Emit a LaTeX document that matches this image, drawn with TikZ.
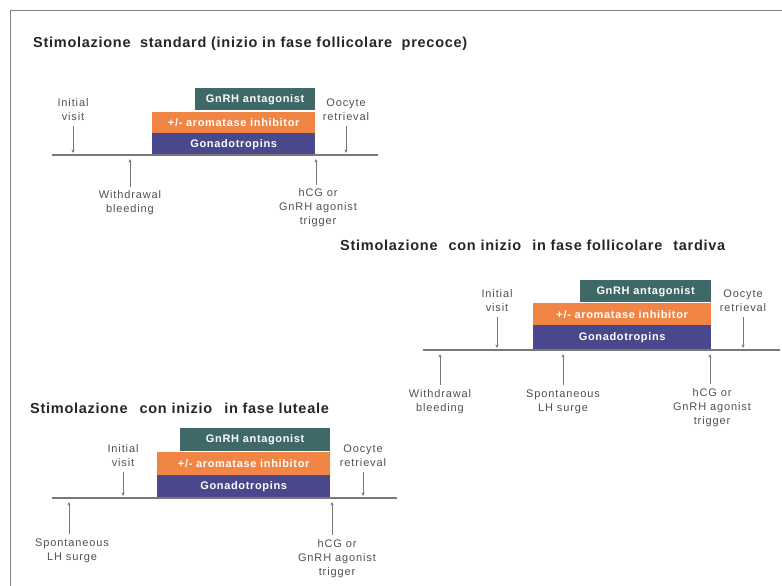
\documentclass[tikz,border=0pt]{standalone}
\usepackage{fontspec}
\setmainfont{Liberation Sans}
\usetikzlibrary{arrows.meta}
\definecolor{teal1}{RGB}{62,105,104}
\definecolor{orange1}{RGB}{240,133,70}
\definecolor{purple1}{RGB}{74,72,140}
\definecolor{txtgray}{RGB}{80,80,80}
\definecolor{linegray}{RGB}{120,120,120}
\begin{document}
\begin{tikzpicture}[x=1pt,y=-1pt,
  ttl/.style={anchor=west,inner sep=0pt,font=\bfseries\fontsize{14.5}{16}\selectfont\addfontfeatures{LetterSpace=5},text=black!85},
  lbl/.style={align=center,inner sep=0pt,font=\fontsize{11}{14}\selectfont\addfontfeatures{LetterSpace=8},text=txtgray},
  bar/.style={draw=none,inner sep=0pt,text=white,font=\bfseries\fontsize{11}{12}\selectfont\addfontfeatures{LetterSpace=6}},
  tline/.style={draw=linegray,line width=1.2pt},
  arr/.style={draw=linegray,line width=0.7pt,-{Stealth[length=3.5pt,width=3pt]}}]
\useasboundingbox (0,0) rectangle (782,586);
% frame
\draw[line width=1.5pt,draw=black!50] (782,10.5) -- (10.5,10.5) -- (10.5,586);

% ===== Panel 1 =====
\node[ttl] (t1) at (33,44) {Stimolazione\ \ standard (inizio in fase follicolare\ \ precoce)};
\node[bar,fill=teal1,minimum width=120pt,minimum height=22pt,anchor=north west] (a1) at (195,88) {GnRH antagonist};
\node[bar,fill=orange1,minimum width=163pt,minimum height=21pt,anchor=north west] (o1) at (152,112) {+/- aromatase inhibitor};
\node[bar,fill=purple1,minimum width=163pt,minimum height=22pt,anchor=north west] (g1) at (152,133) {Gonadotropins};
\coordinate (l1s) at (52,155); \coordinate (l1e) at (378,155);
\draw[tline] (l1s) -- (l1e);
\node[lbl] (iv1) at (73,110) {Initial\\visit};
\node[lbl] (or1) at (346,110) {Oocyte\\retrieval};
\node[lbl] (wb1) at (130,203) {Withdrawal\\bleeding};
\node[lbl] (hc1) at (318,208) {hCG or\\GnRH agonist\\trigger};
\coordinate (iv1t) at (73,153); \coordinate (or1t) at (346,153);
\coordinate (wb1t) at (130,159); \coordinate (hc1t) at (316,159);
\draw[arr] ([yshift=-5pt]iv1.south) -- (iv1t);
\draw[arr] ([yshift=-5pt]or1.south) -- (or1t);
\draw[arr] ([yshift=4pt]wb1.north) -- (wb1t);
\draw[arr] ([xshift=-2pt,yshift=4pt]hc1.north) -- (hc1t);

% ===== Panel 2 =====
\node[ttl] (t2) at (340,245) {Stimolazione\hspace{11pt}con inizio\hspace{11pt}in fase follicolare\hspace{11pt}tardiva};
\node[bar,fill=teal1,minimum width=131pt,minimum height=22pt,anchor=north west] (a2) at (580,280) {GnRH antagonist};
\node[bar,fill=orange1,minimum width=178pt,minimum height=22pt,anchor=north west] (o2) at (533,303) {+/- aromatase inhibitor};
\node[bar,fill=purple1,minimum width=178pt,minimum height=24pt,anchor=north west] (g2) at (533,325) {Gonadotropins};
\coordinate (l2s) at (423,350); \coordinate (l2e) at (780,350);
\draw[tline] (l2s) -- (l2e);
\node[lbl] (iv2) at (497,301) {Initial\\visit};
\node[lbl] (or2) at (743,301) {Oocyte\\retrieval};
\node[lbl] (wb2) at (440,402) {Withdrawal\\bleeding};
\node[lbl] (ls2) at (563,402) {Spontaneous\\LH surge};
\node[lbl] (hc2) at (712,408) {hCG or\\GnRH agonist\\trigger};
\coordinate (iv2t) at (497,348); \coordinate (or2t) at (743,348);
\coordinate (wb2t) at (440,354); \coordinate (ls2t) at (563,354); \coordinate (hc2t) at (710,354);
\draw[arr] ([yshift=-5pt]iv2.south) -- (iv2t);
\draw[arr] ([yshift=-5pt]or2.south) -- (or2t);
\draw[arr] ([yshift=5pt]wb2.north) -- (wb2t);
\draw[arr] ([yshift=5pt]ls2.north) -- (ls2t);
\draw[arr] ([xshift=-2pt,yshift=5pt]hc2.north) -- (hc2t);

% ===== Panel 3 =====
\node[ttl] (t3) at (30,408) {Stimolazione\hspace{12pt}con inizio\hspace{12pt}in fase luteale};
\node[bar,fill=teal1,minimum width=150pt,minimum height=23pt,anchor=north west] (a3) at (180,428) {GnRH antagonist};
\node[bar,fill=orange1,minimum width=173pt,minimum height=23pt,anchor=north west] (o3) at (157,452) {+/- aromatase inhibitor};
\node[bar,fill=purple1,minimum width=173pt,minimum height=23pt,anchor=north west] (g3) at (157,475) {Gonadotropins};
\coordinate (l3s) at (52,498); \coordinate (l3e) at (397,498);
\draw[tline] (l3s) -- (l3e);
\node[lbl] (iv3) at (123,456) {Initial\\visit};
\node[lbl] (or3) at (363,456) {Oocyte\\retrieval};
\node[lbl] (ls3) at (72,551) {Spontaneous\\LH surge};
\node[lbl] (hc3) at (337,559) {hCG or\\GnRH agonist\\trigger};
\coordinate (iv3t) at (123,496); \coordinate (or3t) at (363,496);
\coordinate (ls3t) at (69,502); \coordinate (hc3t) at (332,502);
\draw[arr] ([yshift=-5pt]iv3.south) -- (iv3t);
\draw[arr] ([yshift=-5pt]or3.south) -- (or3t);
\draw[arr] ([xshift=-3pt,yshift=5pt]ls3.north) -- (ls3t);
\draw[arr] ([xshift=-5pt,yshift=5pt]hc3.north) -- (hc3t);
\end{tikzpicture}
\end{document}
